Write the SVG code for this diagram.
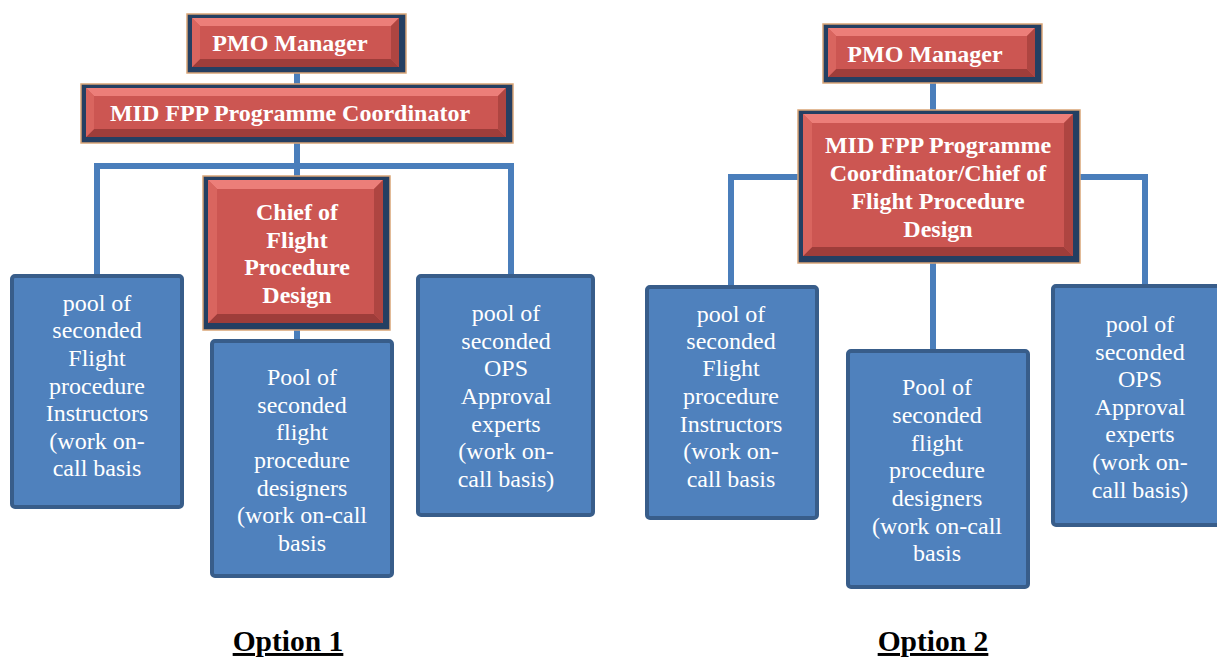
<svg xmlns="http://www.w3.org/2000/svg" width="1217" height="657" viewBox="0 0 1217 657">
<style>
.conn{fill:none;stroke:#4A7EBB;stroke-width:6;stroke-linecap:butt}
.rb{fill:#243F62;stroke:#D9A577;stroke-width:1.5}
.rf{fill:#CC5652}
.bt{fill:#EC7E79}
.bb{fill:#9E3D3A}
.bl{fill:#D9655F}
.br{fill:#AE4541}
.rt{font-family:'Liberation Serif','DejaVu Serif',serif;font-weight:bold;font-size:24px;fill:#FFFFFF;text-anchor:middle}
.bx{fill:#4F81BD;stroke:#385D8A;stroke-width:4}
.bt2{font-family:'Liberation Serif','DejaVu Serif',serif;font-size:24px;fill:#FFFFFF;text-anchor:middle}
.opt{font-family:'Liberation Serif','DejaVu Serif',serif;font-weight:bold;font-size:29.5px;fill:#000000;text-anchor:middle;text-decoration:underline}
</style>
<rect width="1217" height="657" fill="#FFFFFF"/>
<g id="connectors">
<path class="conn" d="M297,73 V85"/>
<path class="conn" d="M297,143 V177"/>
<path class="conn" d="M97,285 V166 H511 V285"/>
<path class="conn" d="M297,330 V342"/>
<path class="conn" d="M933,83 V111"/>
<path class="conn" d="M933,263 V351"/>
<path class="conn" d="M731,300 V177 H799"/>
<path class="conn" d="M1080,177 H1145 V300"/>
</g>
<g id="opt1-pmo">
<rect class="rb" x="187" y="14" width="219" height="59"/>
<rect class="rf" x="192" y="18" width="207" height="49"/>
<polygon class="bt" points="192,18 399,18 391,26 200,26"/>
<polygon class="bb" points="192,67 399,67 391,59 200,59"/>
<polygon class="bl" points="192,18 200,26 200,59 192,67"/>
<polygon class="br" points="399,18 391,26 391,59 399,67"/>
<text class="rt" x="290" y="51">PMO Manager</text>
</g>
<g id="opt1-coord">
<rect class="rb" x="81" y="84" width="432" height="59"/>
<rect class="rf" x="86" y="88" width="420" height="49"/>
<polygon class="bt" points="86,88 506,88 498,96 94,96"/>
<polygon class="bb" points="86,137 506,137 498,129 94,129"/>
<polygon class="bl" points="86,88 94,96 94,129 86,137"/>
<polygon class="br" points="506,88 498,96 498,129 506,137"/>
<text class="rt" x="290" y="121">MID FPP Programme Coordinator</text>
</g>
<g id="opt1-chief">
<rect class="rb" x="203" y="176" width="187" height="154"/>
<rect class="rf" x="208" y="180" width="175" height="143"/>
<polygon class="bt" points="208,180 383,180 374,189 217,189"/>
<polygon class="bb" points="208,323 383,323 374,314 217,314"/>
<polygon class="bl" points="208,180 217,189 217,314 208,323"/>
<polygon class="br" points="383,180 374,189 374,314 383,323"/>
<text class="rt"><tspan x="297" y="220">Chief of</tspan><tspan x="297" y="248">Flight</tspan><tspan x="297" y="275">Procedure</tspan><tspan x="297" y="303">Design</tspan></text>
</g>
<g id="opt1-instructors">
<rect class="bx" x="12" y="276" width="170" height="231" rx="3"/>
<text class="bt2"><tspan x="97" y="311">pool of</tspan><tspan x="97" y="338">seconded</tspan><tspan x="97" y="366">Flight</tspan><tspan x="97" y="394">procedure</tspan><tspan x="97" y="421">Instructors</tspan><tspan x="97" y="449">(work on-</tspan><tspan x="97" y="476">call basis</tspan></text>
</g>
<g id="opt1-designers">
<rect class="bx" x="212" y="341" width="180" height="235" rx="3"/>
<text class="bt2"><tspan x="302" y="385">Pool of</tspan><tspan x="302" y="413">seconded</tspan><tspan x="302" y="440">flight</tspan><tspan x="302" y="468">procedure</tspan><tspan x="302" y="496">designers</tspan><tspan x="302" y="523">(work on-call</tspan><tspan x="302" y="551">basis</tspan></text>
</g>
<g id="opt1-ops">
<rect class="bx" x="418" y="276" width="175" height="239" rx="3"/>
<text class="bt2"><tspan x="506" y="321">pool of</tspan><tspan x="506" y="349">seconded</tspan><tspan x="506" y="376">OPS</tspan><tspan x="506" y="404">Approval</tspan><tspan x="506" y="432">experts</tspan><tspan x="506" y="459">(work on-</tspan><tspan x="506" y="487">call basis)</tspan></text>
</g>
<g id="opt2-pmo">
<rect class="rb" x="823" y="24" width="219" height="59"/>
<rect class="rf" x="828" y="28" width="207" height="49"/>
<polygon class="bt" points="828,28 1035,28 1027,36 836,36"/>
<polygon class="bb" points="828,77 1035,77 1027,69 836,69"/>
<polygon class="bl" points="828,28 836,36 836,69 828,77"/>
<polygon class="br" points="1035,28 1027,36 1027,69 1035,77"/>
<text class="rt" x="925" y="62">PMO Manager</text>
</g>
<g id="opt2-coord">
<rect class="rb" x="798" y="110" width="282" height="153"/>
<rect class="rf" x="803" y="114" width="270" height="142"/>
<polygon class="bt" points="803,114 1073,114 1064,123 812,123"/>
<polygon class="bb" points="803,256 1073,256 1064,247 812,247"/>
<polygon class="bl" points="803,114 812,123 812,247 803,256"/>
<polygon class="br" points="1073,114 1064,123 1064,247 1073,256"/>
<text class="rt"><tspan x="938" y="153">MID FPP Programme</tspan><tspan x="938" y="181">Coordinator/Chief of</tspan><tspan x="938" y="209">Flight Procedure</tspan><tspan x="938" y="237">Design</tspan></text>
</g>
<g id="opt2-instructors">
<rect class="bx" x="647" y="287" width="170" height="231" rx="3"/>
<text class="bt2"><tspan x="731" y="322">pool of</tspan><tspan x="731" y="349">seconded</tspan><tspan x="731" y="376">Flight</tspan><tspan x="731" y="404">procedure</tspan><tspan x="731" y="432">Instructors</tspan><tspan x="731" y="459">(work on-</tspan><tspan x="731" y="487">call basis</tspan></text>
</g>
<g id="opt2-designers">
<rect class="bx" x="848" y="351" width="180" height="236" rx="3"/>
<text class="bt2"><tspan x="937" y="395">Pool of</tspan><tspan x="937" y="423">seconded</tspan><tspan x="937" y="451">flight</tspan><tspan x="937" y="478">procedure</tspan><tspan x="937" y="506">designers</tspan><tspan x="937" y="534">(work on-call</tspan><tspan x="937" y="561">basis</tspan></text>
</g>
<g id="opt2-ops">
<rect class="bx" x="1053" y="286" width="175" height="239" rx="3"/>
<text class="bt2"><tspan x="1140" y="332">pool of</tspan><tspan x="1140" y="360">seconded</tspan><tspan x="1140" y="387">OPS</tspan><tspan x="1140" y="415">Approval</tspan><tspan x="1140" y="442">experts</tspan><tspan x="1140" y="470">(work on-</tspan><tspan x="1140" y="498">call basis)</tspan></text>
</g>
<text class="opt" x="288" y="651">Option 1</text>
<text class="opt" x="933" y="651">Option 2</text>
</svg>
